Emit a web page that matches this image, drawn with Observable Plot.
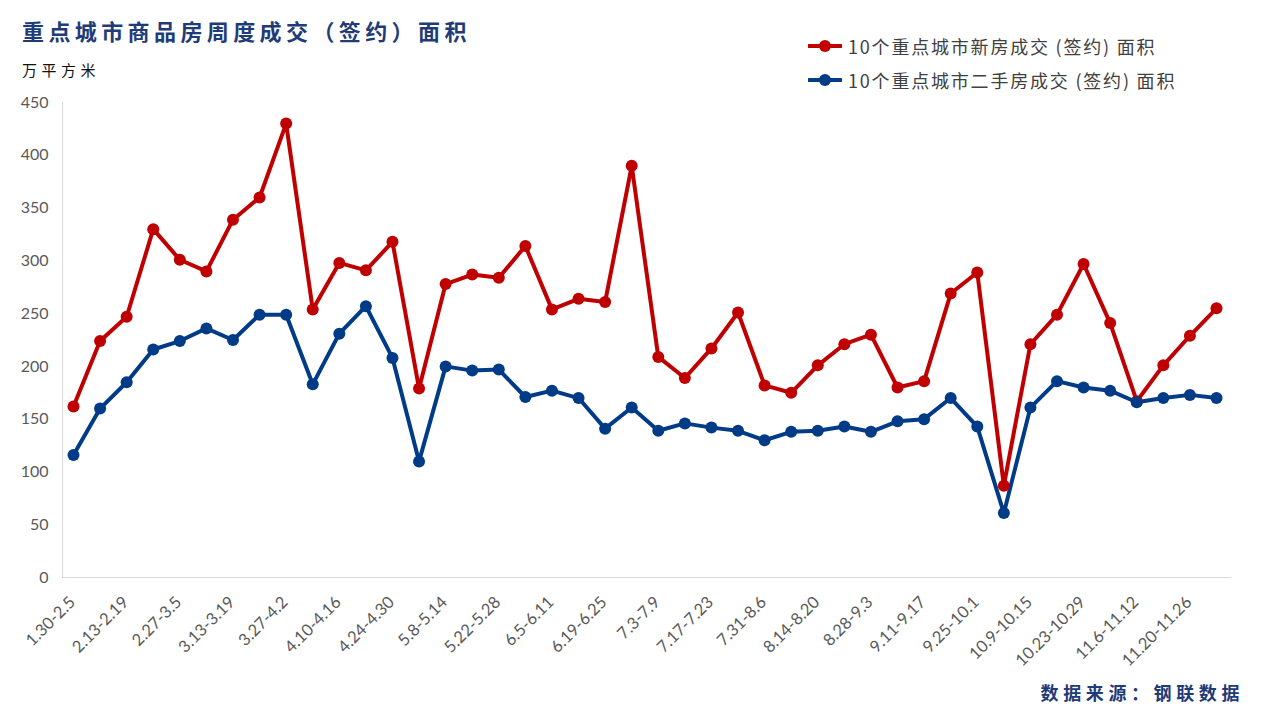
<!DOCTYPE html>
<html>
<head>
<meta charset="utf-8">
<script src="https://cdn.jsdelivr.net/npm/d3@7"></script>
<script src="https://cdn.jsdelivr.net/npm/@observablehq/plot@0.6"></script>
<style>
  html, body { margin: 0; padding: 0; background: #fff; }
  #wrap { position: relative; width: 1276px; height: 712px; overflow: hidden; }
  #title { position: absolute; left: 22px; top: 14px; font-family: "Noto Sans CJK SC"; font-weight: 700; font-size: 22px; letter-spacing: 4.4px; color: #1f3b78; white-space: nowrap; }
  #unit { position: absolute; left: 22px; top: 59px; font-family: "Noto Sans CJK SC"; font-size: 15px; letter-spacing: 4.5px; color: #111; white-space: nowrap; }
  #legend { position: absolute; left: 808px; top: 29px; font-family: "Noto Sans CJK SC"; font-size: 18px; letter-spacing: 1.8px; color: #404040; }
  #legend .item { display: flex; align-items: center; height: 34px; white-space: nowrap; }
  #legend svg { margin-right: 6px; }
  #source { position: absolute; right: 32px; top: 679px; font-family: "Noto Sans CJK SC"; font-weight: 700; font-size: 18px; letter-spacing: 4.6px; color: #1f3b78; white-space: nowrap; }
  #chart { position: absolute; left: 0; top: 0; }
</style>
</head>
<body>
<div id="wrap">
  <div id="chart"></div>
  <div id="title"></div>
  <div id="unit"></div>
  <div id="legend"></div>
  <div id="source"></div>
</div>
<script>
const titleText = "重点城市商品房周度成交（签约）面积";
const unitText = "万平方米";
const sourceText = "数据来源：钢联数据";
const seriesNames = ["10个重点城市新房成交 (签约) 面积", "10个重点城市二手房成交 (签约) 面积"];
const seriesColors = ["#c00000", "#003b87"];

const weeks = ["1.30-2.5","2.6-2.12","2.13-2.19","2.20-2.26","2.27-3.5","3.6-3.12","3.13-3.19","3.20-3.26","3.27-4.2","4.3-4.9","4.10-4.16","4.17-4.23","4.24-4.30","5.1-5.7","5.8-5.14","5.15-5.21","5.22-5.28","5.29-6.4","6.5-6.11","6.12-6.18","6.19-6.25","6.26-7.2","7.3-7.9","7.10-7.16","7.17-7.23","7.24-7.30","7.31-8.6","8.7-8.13","8.14-8.20","8.21-8.27","8.28-9.3","9.4-9.10","9.11-9.17","9.18-9.24","9.25-10.1","10.2-10.8","10.9-10.15","10.16-10.22","10.23-10.29","10.30-11.5","11.6-11.12","11.13-11.19","11.20-11.26","11.27-12.3"];

const newHome = [162,224,247,330,301,290,339,360,430,254,298,291,318,179,278,287,284,314,254,264,261,390,209,189,217,251,182,175,201,221,230,180,186,269,289,87,221,249,297,241,167,201,229,255];
const secondHand = [116,160,185,216,224,236,225,249,249,183,231,257,208,110,200,196,197,171,177,170,141,161,139,146,142,139,130,138,139,143,138,148,150,170,143,61,161,186,180,177,166,170,173,170];

const yTicks = [0,50,100,150,200,250,300,350,400,450];
const xTickIdx = weeks.map((d, i) => i).filter(i => i % 2 === 0);

const rows = [];
weeks.forEach((w, i) => {
  rows.push({idx: i, week: w, value: newHome[i], series: seriesNames[0]});
});
weeks.forEach((w, i) => {
  rows.push({idx: i, week: w, value: secondHand[i], series: seriesNames[1]});
});

const numFont = "Lato, 'Open Sans', sans-serif";

const chart = Plot.plot({
  width: 1276,
  height: 712,
  marginLeft: 62,
  marginRight: 46,
  marginTop: 102,
  marginBottom: 135,
  style: { fontFamily: numFont, background: "transparent", overflow: "visible" },
  x: { domain: [0, weeks.length - 1], insetLeft: 11, insetRight: 14 },
  y: { domain: [0, 450] },
  color: { domain: seriesNames, range: seriesColors },
  marks: [
    Plot.frame({ anchor: "left", stroke: "#d9d9d9" }),
    Plot.frame({ anchor: "bottom", stroke: "#d9d9d9" }),
    Plot.axisY({ ticks: yTicks, tickSize: 0, tickPadding: 14, fontSize: 16, color: "#595959", label: null }),
    Plot.axisX({ ticks: xTickIdx, tickFormat: i => weeks[i], tickSize: 0, tickPadding: 22, dx: -1, tickRotate: -45, fontSize: 16.5, color: "#595959", label: null }),
    Plot.line(rows, { x: "idx", y: "value", z: "series", stroke: "series", strokeWidth: 4, strokeLinejoin: "round" }),
    Plot.dot(rows, { x: "idx", y: "value", fill: "series", r: 6 })
  ]
});
document.getElementById("chart").appendChild(chart);

document.getElementById("title").textContent = titleText;
document.getElementById("unit").textContent = unitText;
document.getElementById("source").textContent = sourceText;
const legend = document.getElementById("legend");
seriesNames.forEach((name, i) => {
  const item = document.createElement("div");
  item.className = "item";
  item.innerHTML = `<svg width="34" height="14"><line x1="1" y1="7" x2="33" y2="7" stroke="${seriesColors[i]}" stroke-width="4" stroke-linecap="round"/><circle cx="17" cy="7" r="6" fill="${seriesColors[i]}"/></svg><span></span>`;
  item.querySelector("span").textContent = name;
  legend.appendChild(item);
});
</script>
</body>
</html>
